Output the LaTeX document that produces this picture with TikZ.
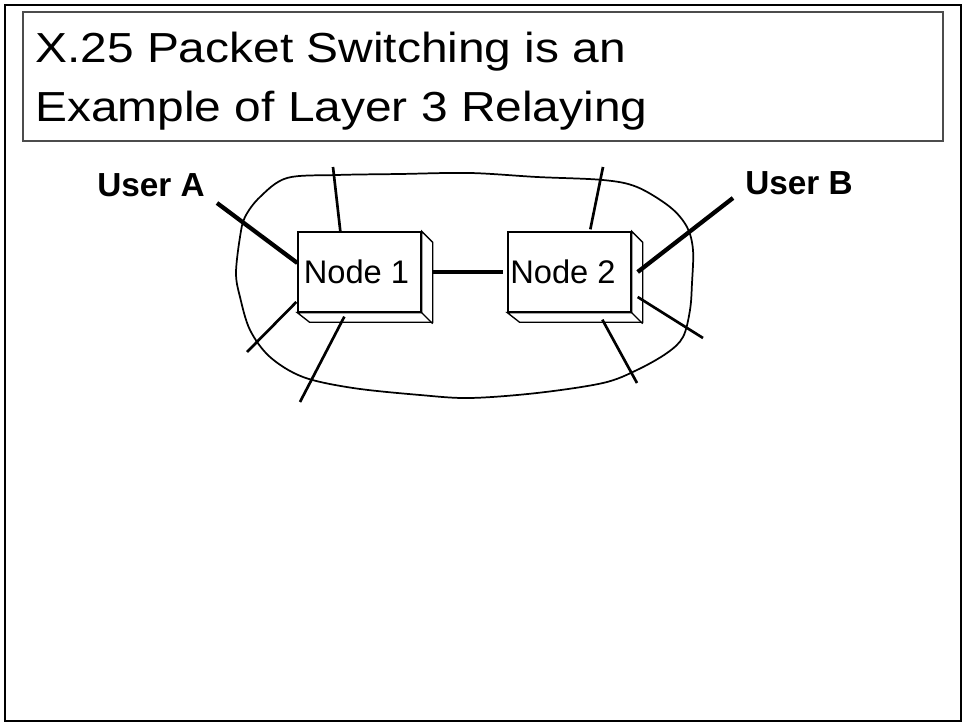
\documentclass[tikz,border=0pt]{standalone}
\usepackage{fontspec}
\setmainfont{Liberation Sans}
\usetikzlibrary{calc}

\begin{document}
\begin{tikzpicture}[x=0.75pt,y=-0.75pt,
    wire/.style={line width=2pt},
    userwire/.style={line width=3.2pt},
    face/.style={draw,line width=1pt,fill=white,minimum width=92.25pt,minimum height=60pt,inner sep=0pt,font=\fontsize{24.5}{28}\selectfont},
    rim/.style={draw,line width=1pt,fill=white,line join=miter},
    user/.style={font=\fontsize{25}{28}\selectfont\bfseries,inner sep=0pt,anchor=base west},
    heading/.style={font=\fontsize{31.5}{38}\selectfont,inner sep=0pt,anchor=base west}]

\useasboundingbox (0,0) rectangle (964,723);
	\draw[line width=2pt] (5,5) rectangle (961,721);
	\draw[color=gray!60!black,line width=1pt] (23,12) rectangle (943,141);

\node[heading] (title1) at (35,63) {\scalebox{1.14}[1]{X.25 Packet Switching is an}};
\node[heading] (title2) at (35,122) {\scalebox{1.14}[1]{Example of Layer 3 Relaying}};

% the network cloud
\draw[line width=1.3pt] plot[smooth cycle,tension=0.55] coordinates {
 (260,197) (287,178) (337,175) (400,174) (470,173) (537,177) (603,180)
 (637,187) (670,207) (687,227) (693,250) (692,283) (690,310) (683,337)
 (667,353) (637,370) (603,383) (537,393) (470,398) (420,395) (353,388)
 (303,377) (270,357) (250,330) (240,297) (236,273) (240,237) (245,217)};

% switching nodes
\node[face] (n1) at (359.5,272) {Node 1\kern4.5pt};
\node[face] (n2) at (569.5,272) {Node 2\kern9.75pt};
\foreach \n in {n1,n2}{
  \draw[rim] (\n.north east) -- ++(11,11) -- ++(0,80) -- ++(-123,0) -- (\n.south west) -- (\n.south east) -- cycle;
  \draw[line width=1pt] (\n.south east) -- ++(11,11);
}

\node[user] (ua) at (97,197) {User A};
\node[user] (ub) at (745,195) {User B};
\coordinate (ea) at (217,203);
\coordinate (eb) at (733,198);
\coordinate (t1) at (333,167);
\coordinate (l1) at (247,352);
\coordinate (b1) at (300,402);
\coordinate (t2) at (603,167);
\coordinate (r2) at (703,338);
\coordinate (b2) at (637,383);

\draw[userwire] ($(n1.west)+(0,-9)$) -- (ea);
\draw[userwire] ($(n2.east)+(6,0)$) -- (eb);
\draw[userwire] ($(n1.east)+(11,0)$) -- ($(n2.west)+(-4,0)$);

\draw[wire] ($(n1.north west)+(43,0)$) -- (t1);
\draw[wire] ($(n1.west)+(-1,30)$) -- (l1);
\draw[wire] ($(n1.south west)+(47,4)$) -- (b1);
\draw[wire] ($(n2.north west)+(83,-2)$) -- (t2);
\draw[wire] ($(n2.east)+(6,25)$) -- (r2);
\draw[wire] ($(n2.south west)+(95,7)$) -- (b2);

\end{tikzpicture}
\end{document}
